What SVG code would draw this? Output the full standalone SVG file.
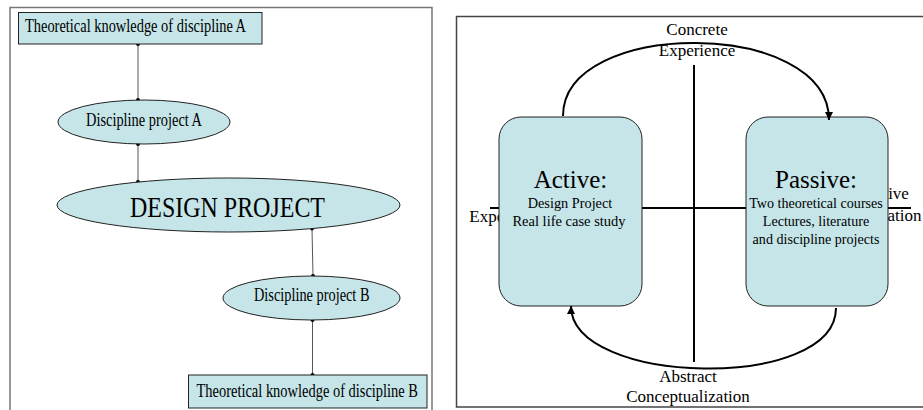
<svg xmlns="http://www.w3.org/2000/svg" width="923" height="410" viewBox="0 0 923 410">
<style>
  text { font-family: "Liberation Serif", "Times New Roman", serif; fill: #000; }
  .node { fill: #c5e5e8; stroke: #222; stroke-width: 1; }
  .conn { stroke: #555; stroke-width: 1; fill: none; }
  .dot { fill: #000; }
  .axis { stroke: #000; stroke-width: 2; fill: none; }
  .arc { stroke: #000; stroke-width: 2; fill: none; }
  .sm { font-size: 18px; }
  .lbl { font-size: 17px; text-anchor: middle; }
</style>
<defs>
  <marker id="arrow" viewBox="0 0 10 10" refX="10" refY="5" markerWidth="4" markerHeight="4" orient="auto" markerUnits="strokeWidth">
    <path d="M0,0 L10,5 L0,10 z" fill="#000"/>
  </marker>
</defs>
<rect x="0" y="0" width="923" height="410" fill="#fff"/>

<!-- Left panel -->
<g id="left-panel">
  <path d="M10,415 L10,7.5 L432,7.5 L432,415" fill="none" stroke="#777" stroke-width="1.5"/>
</g>

<g id="connectors">
  <line class="conn" x1="138" y1="44" x2="138" y2="100"/>
  <line class="conn" x1="138" y1="144" x2="138" y2="182"/>
  <line class="conn" x1="312" y1="228.5" x2="313" y2="276"/>
  <line class="conn" x1="312.5" y1="320" x2="312.5" y2="375"/>
  <circle class="dot" cx="138" cy="44" r="2"/>
  <circle class="dot" cx="138" cy="100" r="2"/>
  <circle class="dot" cx="138" cy="144" r="2"/>
  <circle class="dot" cx="138" cy="182" r="2"/>
  <circle class="dot" cx="312" cy="228.5" r="2"/>
  <circle class="dot" cx="313" cy="276" r="2"/>
  <circle class="dot" cx="312.5" cy="320" r="2"/>
  <circle class="dot" cx="312.5" cy="375" r="2"/>
</g>

<g id="theory-a">
  <rect class="node" x="18.5" y="12.5" width="243.5" height="31.5"/>
  <text class="sm" x="25" y="32" textLength="221" lengthAdjust="spacingAndGlyphs">Theoretical knowledge of discipline A</text>
</g>
<g id="project-a">
  <ellipse class="node" cx="144" cy="122" rx="86" ry="22"/>
  <text class="sm" x="86" y="126" textLength="116" lengthAdjust="spacingAndGlyphs">Discipline project A</text>
</g>
<g id="design-project">
  <ellipse class="node" cx="228.5" cy="205" rx="171.5" ry="27"/>
  <text x="130" y="216.5" font-size="29" textLength="195" lengthAdjust="spacingAndGlyphs">DESIGN PROJECT</text>
</g>
<g id="project-b">
  <ellipse class="node" cx="311.5" cy="298" rx="88.5" ry="22"/>
  <text class="sm" x="254" y="300.5" textLength="115.5" lengthAdjust="spacingAndGlyphs">Discipline project B</text>
</g>
<g id="theory-b">
  <rect class="node" x="188.5" y="375" width="238.5" height="33"/>
  <text class="sm" x="196.5" y="396.5" textLength="221.5" lengthAdjust="spacingAndGlyphs">Theoretical knowledge of discipline B</text>
</g>

<!-- Right panel -->
<g id="right-panel">
  <path d="M930,16.5 L456.5,16.5 L456.5,407 L930,407" fill="none" stroke="#444" stroke-width="1.5"/>
  <line class="axis" x1="694" y1="65" x2="694" y2="362"/>
  <line class="axis" x1="490" y1="208" x2="911" y2="208"/>
</g>

<g id="label-left">
  <text class="lbl" x="526" y="200">Active</text>
  <text class="lbl" x="526" y="222">Experimentation</text>
</g>
<g id="label-right">
  <text class="lbl" x="874" y="199">Reflective</text>
  <text class="lbl" x="880" y="221">Observation</text>
</g>

<g id="active">
  <rect class="node" x="499" y="117" width="143" height="189" rx="22" ry="22" stroke="#333"/>
  <text x="570.5" y="188" font-size="25" text-anchor="middle">Active:</text>
  <text x="570" y="208" font-size="14.3" text-anchor="middle">Design Project</text>
  <text x="569" y="226" font-size="14.5" text-anchor="middle">Real life case study</text>
</g>
<g id="passive">
  <rect class="node" x="746" y="117" width="142" height="189" rx="22" ry="22" stroke="#333"/>
  <text x="816" y="188" font-size="25" text-anchor="middle">Passive:</text>
  <text x="816" y="208" font-size="14.1" text-anchor="middle">Two theoretical courses</text>
  <text x="816" y="226" font-size="14.1" text-anchor="middle">Lectures, literature</text>
  <text x="816" y="243.5" font-size="14.1" text-anchor="middle">and discipline projects</text>
</g>

<g id="cycle-arcs">
  <path class="arc" d="M563,116 C563,18 829,18 829,120" marker-end="url(#arrow)"/>
  <path class="arc" d="M836,308 C836,392 571,386 571,306" marker-end="url(#arrow)"/>
</g>

<g id="label-top">
  <text class="lbl" x="697" y="35">Concrete</text>
  <text class="lbl" x="697" y="56">Experience</text>
</g>
<g id="label-bottom">
  <text class="lbl" x="688" y="382">Abstract</text>
  <text class="lbl" x="688" y="402">Conceptualization</text>
</g>
</svg>
